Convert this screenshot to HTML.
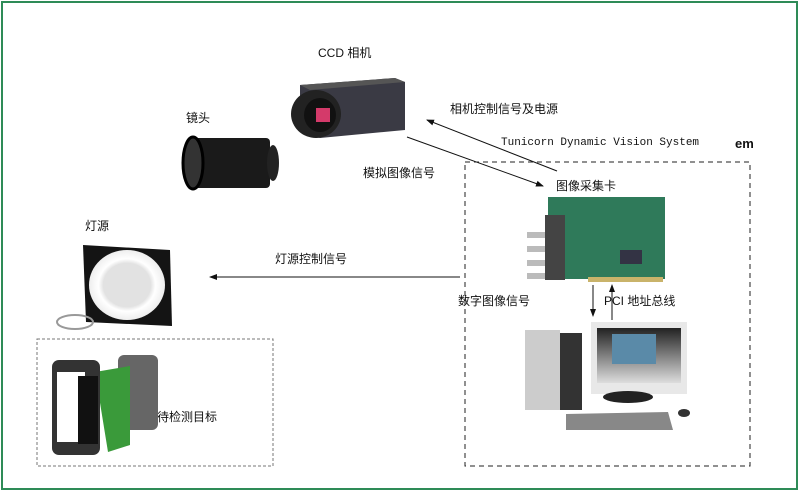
<!DOCTYPE html>
<html><head><meta charset="utf-8"><style>
html,body{margin:0;padding:0;background:#fff;}
svg{display:block;}
text{font-family:"Liberation Sans","Noto Sans CJK SC",sans-serif;font-size:12px;fill:#111;}
.m{font-family:"Liberation Mono",monospace;font-size:11px;}
</style></head><body>
<svg width="800" height="494" viewBox="0 0 800 494" xmlns="http://www.w3.org/2000/svg">
<defs>
<marker id="a" markerWidth="8" markerHeight="8" refX="7" refY="4" orient="auto" markerUnits="userSpaceOnUse"><path d="M0,1 L8,4 L0,7 Z" fill="#111"/></marker>
<radialGradient id="ring"><stop offset="0.6" stop-color="#ddd"/><stop offset="0.75" stop-color="#fff"/><stop offset="1" stop-color="#eee"/></radialGradient>
<linearGradient id="scr" x1="0" y1="0" x2="0" y2="1"><stop offset="0" stop-color="#222"/><stop offset="1" stop-color="#ddd"/></linearGradient>
</defs>
<rect x="2" y="2" width="795" height="487" fill="none" stroke="#2e8b57" stroke-width="2"/>

<!-- camera -->
<text x="318" y="57">CCD 相机</text>
<polygon points="300,85 395,78 405,82 405,130 320,138 300,132" fill="#3a3a44"/>
<polygon points="300,85 395,78 405,82 310,90" fill="#555"/>
<ellipse cx="316" cy="114" rx="25" ry="24" fill="#222"/>
<ellipse cx="320" cy="115" rx="16" ry="17" fill="#111"/>
<rect x="316" y="108" width="14" height="14" fill="#d43a6a"/>

<!-- lens -->
<text x="186" y="122">镜头</text>
<rect x="190" y="138" width="80" height="50" rx="4" fill="#1a1a1a"/>
<ellipse cx="193" cy="163" rx="10" ry="26" fill="#333" stroke="#000" stroke-width="3"/>
<ellipse cx="273" cy="163" rx="6" ry="18" fill="#222"/>

<!-- light -->
<text x="85" y="230">灯源</text>
<polygon points="83,245 170,250 172,326 86,322" fill="#141414"/>
<ellipse cx="127" cy="285" rx="38" ry="35" fill="url(#ring)"/>
<ellipse cx="127" cy="285" rx="24" ry="22" fill="#e2e2e2"/>
<ellipse cx="75" cy="322" rx="18" ry="7" fill="none" stroke="#999" stroke-width="2"/>

<!-- arrows -->
<line x1="557" y1="171" x2="427" y2="120" stroke="#111" marker-end="url(#a)"/>
<line x1="407" y1="137" x2="543" y2="186" stroke="#111" marker-end="url(#a)"/>
<line x1="460" y1="277" x2="210" y2="277" stroke="#111" marker-end="url(#a)"/>
<line x1="593" y1="285" x2="593" y2="316" stroke="#111" marker-end="url(#a)"/>
<line x1="612" y1="320" x2="612" y2="285" stroke="#111" marker-end="url(#a)"/>

<text x="450" y="113">相机控制信号及电源</text>
<text x="363" y="177">模拟图像信号</text>
<text x="275" y="263">灯源控制信号</text>
<text x="556" y="190">图像采集卡</text>
<text x="458" y="305">数字图像信号</text>
<text x="604" y="305">PCI 地址总线</text>
<text x="157" y="421">待检测目标</text>
<text class="m" x="501" y="145">Tunicorn Dynamic Vision System</text>
<text x="735" y="148" style="font-weight:bold;font-size:13px">em</text>

<!-- dashed boxes -->
<rect x="465" y="162" width="285" height="304" fill="none" stroke="#222" stroke-dasharray="5,4"/>
<rect x="37" y="339" width="236" height="127" fill="none" stroke="#777" stroke-dasharray="3,2"/>

<!-- card -->
<rect x="548" y="197" width="117" height="82" fill="#2f7a5a"/>
<rect x="545" y="215" width="20" height="65" fill="#444"/>
<g fill="#bbb"><rect x="527" y="232" width="18" height="6"/><rect x="527" y="246" width="18" height="6"/><rect x="527" y="260" width="18" height="6"/><rect x="527" y="273" width="18" height="6"/></g>
<rect x="620" y="250" width="22" height="14" fill="#334"/>
<rect x="588" y="277" width="75" height="5" fill="#c9b36a"/>

<!-- computer -->
<rect x="525" y="330" width="35" height="80" fill="#ccc"/>
<rect x="560" y="333" width="22" height="77" fill="#333"/>
<rect x="591" y="322" width="96" height="72" fill="#e8e8e8"/>
<rect x="597" y="328" width="84" height="55" fill="url(#scr)"/>
<rect x="612" y="334" width="44" height="30" fill="#5a8aa8"/>
<ellipse cx="628" cy="397" rx="25" ry="6" fill="#222"/>
<polygon points="566,414 668,412 673,430 566,430" fill="#888"/>
<ellipse cx="684" cy="413" rx="6" ry="4" fill="#333"/>

<!-- phone -->
<rect x="118" y="355" width="40" height="75" rx="6" fill="#666"/>
<polygon points="95,372 130,366 130,445 108,452" fill="#3a9a3a"/>
<rect x="52" y="360" width="48" height="95" rx="7" fill="#333"/>
<rect x="57" y="372" width="28" height="70" fill="#fff"/>
<rect x="78" y="376" width="20" height="68" fill="#111"/>
</svg>
</body></html>
